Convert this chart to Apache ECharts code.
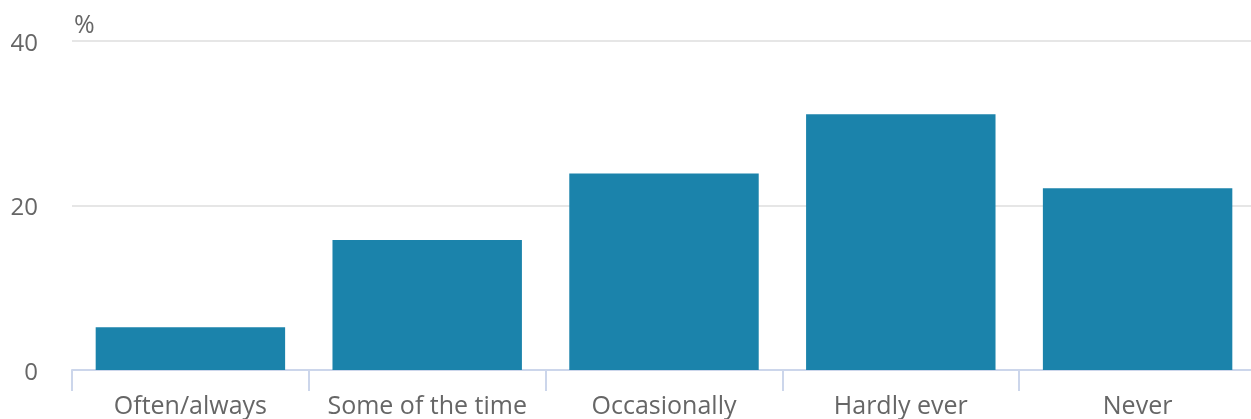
<!DOCTYPE html>
<html>
<head>
<meta charset="utf-8">
<script src="https://cdn.jsdelivr.net/npm/echarts@6/dist/echarts.min.js"></script>
<style>
html,body{margin:0;padding:0;background:#fff;}
#chart{width:1251px;height:419px;}
</style>
</head>
<body>
<div id="chart"></div>
<script>
const categories = ['Often/always', 'Some of the time', 'Occasionally', 'Hardly ever', 'Never'];
const values = [5.2, 15.8, 23.9, 31.1, 22.1];
const yTicks = { min: 0, max: 40, interval: 20 };
const unitLabel = '%';

const chart = echarts.init(document.getElementById('chart'), null, { renderer: 'canvas' });
const font = '"Open Sans", "Noto Sans", sans-serif';
chart.setOption({
  animation: false,
  grid: { left: 72, width: 1184, top: 41, height: 329, containLabel: false, outerBoundsMode: 'none' },
  xAxis: {
    type: 'category',
    data: categories,
    axisLine: { show: true, lineStyle: { color: '#ccd6eb', width: 2 } },
    axisTick: { show: true, alignWithLabel: false, length: 21, lineStyle: { color: '#ccd6eb', width: 2 } },
    axisLabel: { color: '#666666', fontSize: 25, fontFamily: font, margin: 24, interval: 0 },
    splitLine: { show: false }
  },
  yAxis: {
    type: 'value',
    min: yTicks.min, max: yTicks.max, interval: yTicks.interval,
    name: unitLabel,
    nameLocation: 'end',
    nameGap: 15,
    nameTextStyle: { color: '#666666', fontSize: 25, fontFamily: font, align: 'left', verticalAlign: 'middle', padding: [0, 0, 0, 2] },
    axisLine: { show: false },
    axisTick: { show: false },
    axisLabel: {
      color: '#666666', fontSize: 24, fontFamily: font, margin: 34,
      formatter: '{a|{value}}',
      rich: { a: { color: '#666666', fontSize: 24, fontFamily: font, padding: [6, 0, 0, 0] } }
    },
    splitLine: { show: true, lineStyle: { color: '#e6e6e6', width: 2 } }
  },
  series: [{
    type: 'bar',
    data: values,
    barCategoryGap: '20%',
    itemStyle: { color: '#1b83ab' }
  }]
});
</script>
</body>
</html>
